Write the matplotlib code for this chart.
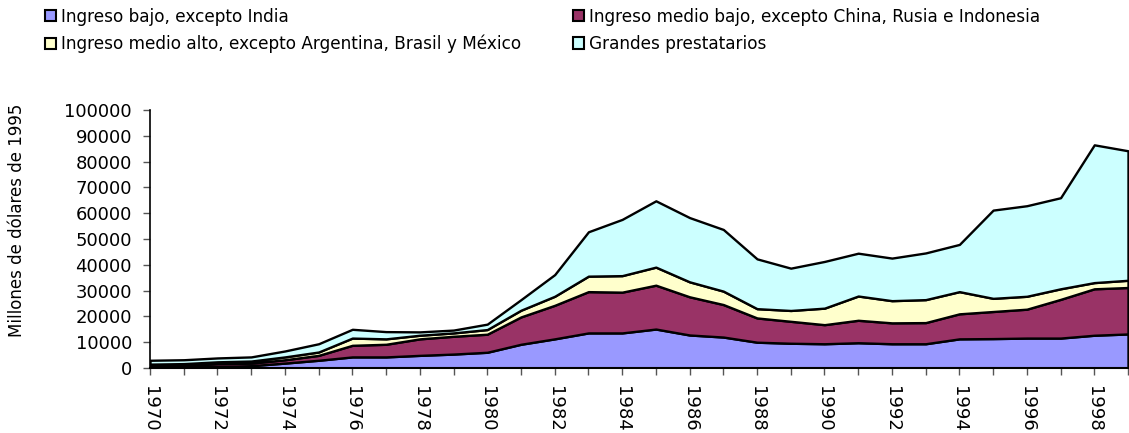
import matplotlib
matplotlib.use('Agg')
import matplotlib.pyplot as plt
from matplotlib.patches import Patch
import numpy as np

plt.rcParams['font.family'] = ['DejaVu Sans']

years = list(range(1970, 2000))

# millones de dolares de 1995
bajo = [400, 500, 600, 900, 1900, 3000, 4300, 4300, 4900, 5400,
        6100, 9200, 11300, 13600, 13600, 15100, 12800, 12000, 10000, 9600,
        9400, 9800, 9400, 9400, 11300, 11400, 11600, 11600, 12700, 13200]
medio_bajo = [500, 500, 1100, 1000, 1300, 1900, 4500, 4900, 6400, 6900,
              7000, 10600, 13000, 16000, 15800, 17000, 14800, 12600, 9400, 8500,
              7400, 8700, 8100, 8200, 9700, 10500, 11200, 15000, 18000, 18000]
medio_alto = [600, 700, 700, 800, 1100, 1300, 2800, 2100, 1400, 1300,
              1800, 2600, 3500, 6000, 6400, 7000, 5800, 5200, 3600, 4200,
              6400, 9400, 8600, 8900, 8600, 5100, 5000, 4100, 2400, 2800]
grandes = [1500, 1500, 1500, 1600, 2300, 3200, 3400, 2800, 1300, 1100,
           2100, 4100, 8400, 17200, 21800, 25700, 24900, 23900, 19300, 16400,
           18100, 16600, 16500, 18100, 18300, 34200, 35100, 35300, 53400, 50200]

labels = ['Ingreso bajo, excepto India',
          'Ingreso medio bajo, excepto China, Rusia e Indonesia',
          'Ingreso medio alto, excepto Argentina, Brasil y México',
          'Grandes prestatarios']
colors = ['#9999FF', '#993366', '#FFFFCC', '#CCFFFF']

fig = plt.figure(figsize=(11.29, 4.33), dpi=100)
ax = fig.add_axes([150 / 1129, 1 - 368 / 433, 978 / 1129, 258 / 433])

ax.stackplot(years, bajo, medio_bajo, medio_alto, grandes,
             colors=colors, edgecolor='black', linewidth=1.7)

ax.set_xlim(1970, 1999)
ax.set_ylim(0, 100000)
ax.set_yticks(np.arange(0, 100001, 10000))
ax.set_xticks(years)
ax.set_xticklabels([str(y) if y % 2 == 0 else '' for y in years], rotation=-90)
ax.tick_params(axis='both', labelsize=13, length=5, width=1, color='#555555')
ax.tick_params(axis='y', pad=8)
ax.tick_params(axis='x', pad=8)
ax.set_ylabel('Millones de dólares de 1995', fontsize=12)
ax.yaxis.set_label_coords(-0.127, 0.574)

for s in ['top', 'right']:
    ax.spines[s].set_visible(False)
ax.spines['left'].set_linewidth(1.2)
ax.spines['bottom'].set_linewidth(1.5)

handles = [Patch(facecolor=c, edgecolor='black', linewidth=1.5) for c in colors]
order = [0, 2, 1, 3]
fig.legend([handles[i] for i in order], [labels[i] for i in order],
           ncol=2, loc='upper left', bbox_to_anchor=(0.029, 1.01),
           frameon=False, fontsize=12.2, handlelength=0.65, handleheight=0.65,
           handletextpad=0.3, columnspacing=3.05, labelspacing=0.55,
           borderaxespad=0.3)

fig.savefig('out.png', dpi=100)
